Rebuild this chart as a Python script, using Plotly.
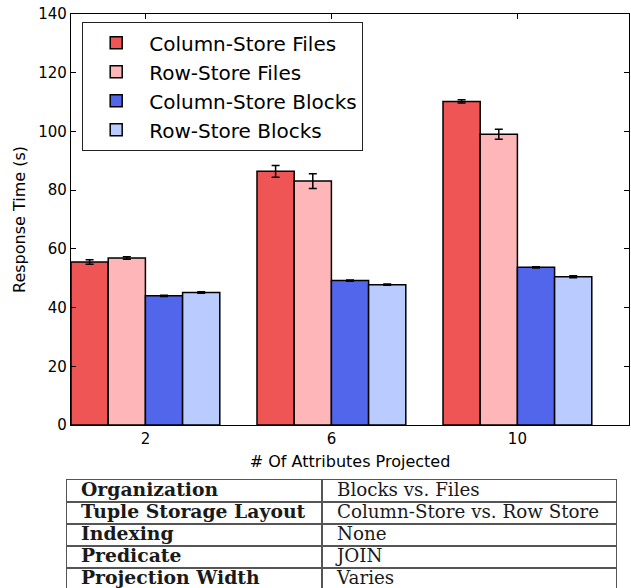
import plotly.graph_objects as go

# ---- data ----
categories = ["2", "6", "10"]
series_names = ["Column-Store Files", "Row-Store Files", "Column-Store Blocks", "Row-Store Blocks"]
col_files = [55.5, 86.4, 110.2]
row_files = [56.9, 83.1, 99.0]
col_blocks = [44.0, 49.2, 53.7]
row_blocks = [45.1, 47.8, 50.5]
col_files_err = [0.75, 2.0, 0.55]
row_files_err = [0.45, 2.5, 1.7]
col_blocks_err = [0.2, 0.2, 0.2]
row_blocks_err = [0.25, 0.2, 0.35]
y_ticks = [0, 20, 40, 60, 80, 100, 120, 140]

table_params = ["Organization", "Tuple Storage Layout", "Indexing", "Predicate", "Projection Width"]
table_values = ["Blocks vs. Files", "Column-Store vs. Row Store", "None", "JOIN", "Varies"]

colors = ["#EF5555", "#FFB6B8", "#5266EC", "#BACBFF"]

# ---- geometry (pixels) ----
W, H = 631, 588
ML, MR, MT, MB = 66, 2, 14, 0
PW, PH = W - ML - MR, H - MT - MB

def px_x(x):
    return (x - ML) / PW

def px_y(y):
    return (H - MB - y) / PH

fig = go.Figure()
for name, vals, errs, col in zip(series_names,
                                 [col_files, row_files, col_blocks, row_blocks],
                                 [col_files_err, row_files_err, col_blocks_err, row_blocks_err],
                                 colors):
    fig.add_trace(go.Bar(
        x=categories, y=vals, name=name,
        marker=dict(color=col, line=dict(color="black", width=1.5)),
        error_y=dict(type="data", array=errs, color="black", thickness=1.5, width=4),
        xaxis="x", yaxis="y",
    ))

# ---- table drawn on its own pair of axes ----
n_rows = len(table_params)
row_idx = list(range(n_rows))
col_split = 255          # left column width in table units
tab_width = 549          # full table width in table units
row_px = 22.0
tab_top, tab_bottom = 480, 588
visible_rows = (tab_bottom - tab_top) / row_px

fig.add_trace(go.Scatter(
    x=[14] * n_rows, y=row_idx, mode="text",
    text=["<b>" + p + "</b>" for p in table_params],
    textposition="middle right",
    textfont=dict(family="DejaVu Serif", size=18.8, color="#1a1a1a"),
    xaxis="x2", yaxis="y2", showlegend=False, hoverinfo="skip", cliponaxis=False,
))
fig.add_trace(go.Scatter(
    x=[col_split + 15] * n_rows, y=row_idx, mode="text",
    text=table_values,
    textposition="middle right",
    textfont=dict(family="DejaVu Serif", size=18.3, color="#1a1a1a"),
    xaxis="x2", yaxis="y2", showlegend=False, hoverinfo="skip", cliponaxis=False,
))

fig.update_layout(
    width=W, height=H,
    margin=dict(l=ML, r=MR, t=MT, b=MB),
    paper_bgcolor="white", plot_bgcolor="white",
    font=dict(family="DejaVu Sans", size=15, color="black"),
    barmode="group", bargap=0.2, bargroupgap=0,
    showlegend=True,
    legend=dict(
        x=px_x(82), y=px_y(22), xanchor="left", yanchor="top",
        bgcolor="white", bordercolor="#222222", borderwidth=1.2,
        font=dict(family="DejaVu Sans", size=20, color="black"),
        tracegroupgap=0, itemwidth=56,
    ),
    xaxis=dict(
        domain=[px_x(71), 1],
        type="category", range=[-0.4, 2.6],
        showline=True, linecolor="black", linewidth=1.2, mirror="ticks",
        ticks="inside", ticklen=5, tickcolor="black", tickwidth=1,
        showgrid=False, zeroline=False, automargin=False,
        title=dict(text="# Of Attributes Projected", font=dict(size=16), standoff=8),
        tickfont=dict(size=15),
    ),
    yaxis=dict(
        domain=[px_y(425), 1],
        range=[0, 140], tickvals=y_ticks,
        showline=True, linecolor="black", linewidth=1.2, mirror="ticks",
        ticks="inside", ticklen=5, tickcolor="black", tickwidth=1,
        showgrid=False, zeroline=False, automargin=False,
        title=dict(text="Response Time (s)", font=dict(size=16), standoff=8),
        tickfont=dict(size=15),
    ),
    xaxis2=dict(
        domain=[px_x(67), px_x(616)], anchor="y2",
        range=[0, tab_width], tickvals=[col_split], showticklabels=False,
        showgrid=True, gridcolor="#555555", gridwidth=1.2,
        showline=True, side="top", linecolor="#555555", linewidth=1.2, mirror=False,
        zeroline=False, ticks="", automargin=False, fixedrange=True,
    ),
    yaxis2=dict(
        domain=[px_y(tab_bottom), px_y(tab_top)], anchor="x2",
        range=[visible_rows - 0.5, -0.5],
        tickvals=[r + 0.5 for r in row_idx[:-1]], showticklabels=False,
        showgrid=True, gridcolor="#555555", gridwidth=1.2,
        showline=True, linecolor="#555555", linewidth=1.2, mirror=True,
        zeroline=False, ticks="", automargin=False, fixedrange=True,
    ),
)

fig.write_html(
    "out.html",
    config={"displayModeBar": False, "staticPlot": True},
    post_script="document.body.style.margin='0';document.body.style.overflow='hidden';",
)
